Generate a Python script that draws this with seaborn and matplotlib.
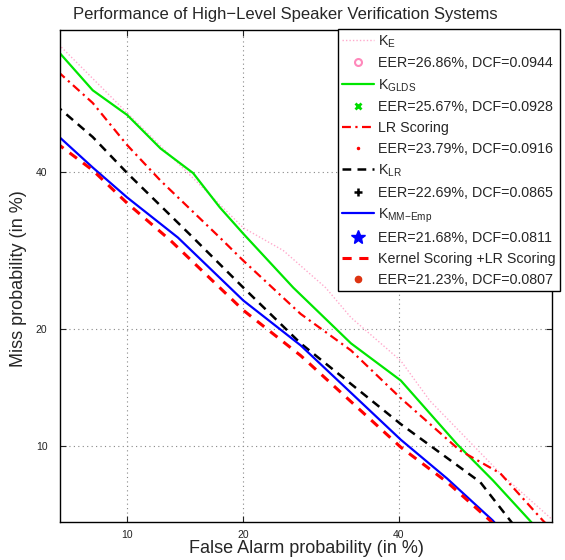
import matplotlib
matplotlib.use('Agg')
import matplotlib.pyplot as plt
from matplotlib.lines import Line2D
import seaborn as sns
import pandas as pd
from statistics import NormalDist

# --- DADOS (Pfa %, Pmiss %) ---
ke_fa = [5.5, 6.2, 10.0, 20.0, 24.5, 29.8, 33.2, 40.3, 44.6, 55.2, 63.0]
ke_miss = [61.0, 58.9, 48.8, 32.2, 29.2, 24.6, 21.2, 16.8, 13.3, 8.3, 5.9]

glds_fa = [5.5, 6.2, 7.9, 10.0, 12.4, 15.1, 17.6, 20.0, 25.7, 33.2, 40.3, 48.7, 54.1, 59.6, 60.5]
glds_miss = [60.0, 57.8, 52.2, 48.5, 43.5, 39.9, 35.0, 31.4, 24.6, 18.5, 15.0, 10.1, 7.9, 5.9, 5.6]

lr_fa = [5.5, 6.2, 7.9, 10.0, 12.4, 17.6, 20.0, 26.6, 33.2, 40.3, 49.1, 55.2, 61.5, 62.5]
lr_miss = [57.0, 54.8, 50.3, 44.0, 38.8, 30.9, 27.9, 21.6, 17.8, 13.5, 9.7, 8.3, 5.9, 5.6]

klr_fa = [5.5, 6.2, 7.9, 10.0, 15.1, 20.0, 26.6, 40.3, 52.2, 56.7, 57.5]
klr_miss = [51.5, 49.5, 45.2, 39.9, 30.9, 24.6, 18.5, 11.5, 7.8, 5.9, 5.6]

mm_fa = [5.5, 6.2, 7.9, 10.0, 13.8, 20.0, 26.6, 40.3, 47.2, 54.1, 55.0]
mm_miss = [47.0, 45.2, 40.7, 36.4, 30.9, 23.1, 18.3, 10.4, 8.0, 5.9, 5.6]

ks_fa = [5.5, 6.2, 7.9, 10.0, 13.2, 20.0, 26.6, 40.3, 47.2, 53.7, 54.5]
ks_miss = [46.0, 44.0, 40.3, 35.6, 30.5, 22.0, 17.3, 9.9, 7.8, 5.9, 5.6]

nomes = ['K_E', 'K_GLDS', 'LR Scoring', 'K_LR', 'K_MM-Emp', 'Kernel Scoring +LR Scoring']
eer_txt = ['EER=26.86%, DCF=0.0944', 'EER=25.67%, DCF=0.0928', 'EER=23.79%, DCF=0.0916',
           'EER=22.69%, DCF=0.0865', 'EER=21.68%, DCF=0.0811', 'EER=21.23%, DCF=0.0807']
rotulos = ['K$_{\\mathrm{E}}$', 'K$_{\\mathrm{GLDS}}$', 'LR Scoring', 'K$_{\\mathrm{LR}}$',
           'K$_{\\mathrm{MM{-}Emp}}$', 'Kernel Scoring +LR Scoring']
ticks_pct = [10, 20, 40]

def probit(vals):
    return [NormalDist().inv_cdf(v / 100.0) for v in vals]

# monta o dataframe longo
curvas = [(ke_fa, ke_miss), (glds_fa, glds_miss), (lr_fa, lr_miss),
          (klr_fa, klr_miss), (mm_fa, mm_miss), (ks_fa, ks_miss)]
linhas = []
for nome, (fa, miss) in zip(nomes, curvas):
    for a, b in zip(probit(fa), probit(miss)):
        linhas.append({'sistema': nome, 'fa': a, 'miss': b})
df = pd.DataFrame(linhas)

# estilos
cores = ['#ffaacc', '#00e600', '#ff0000', '#000000', '#0000ff', '#ff0000']
estilos = [(0, (1, 1.5)), '-', (0, (4, 2, 1, 2)), (0, (3.5, 2.5)), '-', (0, (3, 2.5))]
larguras = [1.0, 1.6, 1.6, 1.8, 1.6, 2.2]
marcadores = [dict(marker='o', markersize=5, markerfacecolor='none', markeredgecolor='#ff88bb', markeredgewidth=1.5),
              dict(marker='x', markersize=4, markeredgecolor='#00dd00', markeredgewidth=2),
              dict(marker='.', markersize=3, color='#ff0000'),
              dict(marker='+', markersize=6, markeredgecolor='#000000', markeredgewidth=1.8),
              dict(marker='*', markersize=10, color='#0000ff'),
              dict(marker='o', markersize=4.5, color='#dd3311')]

sns.set_theme(style='ticks')
plt.rcParams['font.family'] = ['Liberation Sans', 'DejaVu Sans']
plt.rcParams['mathtext.fontset'] = 'custom'
plt.rcParams['mathtext.rm'] = 'Liberation Sans'
plt.rcParams['mathtext.it'] = 'Liberation Sans:italic'

fig = plt.figure(figsize=(5.65, 5.6), dpi=100)
ax = fig.add_axes([60 / 565, 1 - 522 / 560, 492 / 565, 492 / 560])

for i, nome in enumerate(nomes):
    sns.lineplot(data=df[df['sistema'] == nome], x='fa', y='miss', sort=False,
                 color=cores[i], linestyle=estilos[i], linewidth=larguras[i], ax=ax,
                 legend=False, estimator=None)

ax.set_xlim(NormalDist().inv_cdf(0.0623), NormalDist().inv_cdf(0.628))
ax.set_ylim(NormalDist().inv_cdf(0.0584), NormalDist().inv_cdf(0.611))
ax.set_xticks(probit(ticks_pct))
ax.set_yticks(probit(ticks_pct))
ax.set_xticklabels([str(t) for t in ticks_pct])
ax.set_yticklabels([str(t) for t in ticks_pct])
ax.grid(True, linestyle=(0, (1, 3)), color='#888888', linewidth=0.8)
ax.tick_params(direction='in', top=True, right=True, length=4, width=0.8,
               labelsize=7.5, colors='#222222', pad=6)
ax.tick_params(axis='y', pad=9)
for s in ax.spines.values():
    s.set_color('black')
    s.set_linewidth(1.0)

ax.set_xlabel('False Alarm probability (in %)', fontsize=13)
ax.set_ylabel('Miss probability (in %)', fontsize=13)
ax.xaxis.set_label_coords(0.5, -0.037)
ax.yaxis.set_label_coords(-0.068, 0.494)
fig.text(285 / 565, 1 - 15 / 560, 'Performance of High\u2212Level Speaker Verification Systems',
         ha='center', va='center', fontsize=12)

# legenda com as entradas de linha e de EER intercaladas
handles, labels = [], []
for i in range(len(nomes)):
    handles.append(Line2D([], [], color=cores[i], linestyle=estilos[i], linewidth=larguras[i]))
    labels.append(rotulos[i])
    handles.append(Line2D([], [], linestyle='none', **marcadores[i]))
    labels.append(eer_txt[i])

leg = fig.legend(handles, labels, loc='upper right', bbox_to_anchor=(560 / 565, 1 - 29 / 560),
                 borderaxespad=0, fontsize=10.3, frameon=True, fancybox=False, framealpha=1,
                 edgecolor='black', handlelength=2.2, handletextpad=0.3, labelspacing=0.47,
                 borderpad=0.3, numpoints=1)
leg.get_frame().set_linewidth(1.0)

fig.savefig('out.png', dpi=100)
